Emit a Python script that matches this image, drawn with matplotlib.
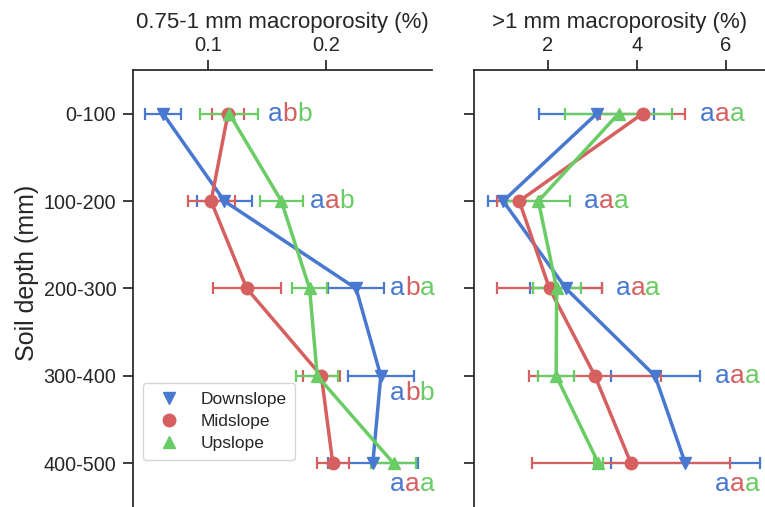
### Macroporosity by soil depth along the hillslope
### two panels: 0.75-1 mm pores and >1 mm pores, mean +/- SE

import numpy as np
from matplotlib import pyplot as plt
from matplotlib.lines import Line2D

params = {'font.family': 'sans-serif',
          'font.sans-serif': ['Liberation Sans', 'DejaVu Sans'],
          'text.color': '#262626',
          'axes.labelcolor': '#262626',
          'xtick.color': '#262626',
          'ytick.color': '#262626',
          'axes.edgecolor': '#262626',
          'axes.linewidth': 1.25,
          'xtick.major.width': 1.25,
          'ytick.major.width': 1.25,
          'xtick.major.size': 7,
          'ytick.major.size': 7,
          'ytick.major.pad': 5,
          'xtick.labelsize': 14.5,
          'ytick.labelsize': 14.2,
          'axes.labelsize': 16}
plt.rcParams.update(params)


# depth classes
depths = ['0-100', '100-200', '200-300', '300-400', '400-500']

# 0.75-1 mm macroporosity (%)
down_small = [0.0615, 0.1136, 0.2255, 0.2465, 0.2397]
down_small_err = [0.015, 0.0234, 0.024, 0.028, 0.038]
mid_small = [0.1167, 0.1023, 0.1326, 0.196, 0.2057]
mid_small_err = [0.014, 0.020, 0.029, 0.016, 0.0137]
up_small = [0.1178, 0.162, 0.186, 0.1925, 0.2573]
up_small_err = [0.0245, 0.0185, 0.015, 0.018, 0.0195]

# >1 mm macroporosity (%)
down_large = [3.10, 1.00, 2.41, 4.41, 5.09]
down_large_err = [1.29, 0.34, 0.81, 1.00, 1.67]
mid_large = [4.13, 1.36, 2.04, 3.06, 3.87]
mid_large_err = [0.95, 0.50, 1.17, 1.48, 2.23]
up_large = [3.59, 1.79, 2.20, 2.19, 3.14]
up_large_err = [1.21, 0.70, 0.54, 0.40, 0.10]

# significance letters (Downslope, Midslope, Upslope)
small_letters = ['abb', 'aab', 'aba', 'abb', 'aaa']
large_letters = ['aaa', 'aaa', 'aaa', 'aaa', 'aaa']

# where the letters go
small_letter_x = [0.1507, 0.1864, 0.2544, 0.2544, 0.2544]
small_letter_dy = [0, 0, 0, 0.2, 0.24]
large_letter_x = [5.42, 2.82, 3.53, 5.76, 5.76]
large_letter_dy = [0, 0, 0, 0, 0.24]

names = ['Downslope', 'Midslope', 'Upslope']
colors = ['#4878D0', '#D65F5F', '#6ACC64']
markers = ['v', 'o', '^']


###############################################################################
### helpers
###############################################################################

def draw_panel(ax, series, errs):
    y = np.arange(len(depths))
    for vals, err, col, mk in zip(series, errs, colors, markers):
        ax.errorbar(vals, y, xerr=err, color=col, marker=mk, markersize=9,
                    lw=2.5, elinewidth=1.6, capsize=4, capthick=1.6)
    ax.set_ylim(len(depths) - 0.5, -0.5)
    ax.set_yticks(y)
    ax.xaxis.tick_top()
    ax.xaxis.set_label_position('top')
    ax.spines['right'].set_visible(False)
    ax.spines['bottom'].set_visible(False)


def draw_letters(ax, letters, xs, dys):
    for i, (word, x, dy) in enumerate(zip(letters, xs, dys)):
        prev = ax.text(x, i + dy, word[0], color=colors[0], fontsize=19,
                       ha='left', va='center')
        for ch, col in zip(word[1:], colors[1:]):
            prev = ax.annotate(ch, xy=(1, 0), xycoords=prev, color=col,
                               fontsize=19, ha='left', va='bottom')


###############################################################################
### plotting
###############################################################################

fig = plt.figure(figsize=(7.65, 5.07), dpi=100)
ax1 = fig.add_axes([0.1739, 0.0, 0.3908, 0.862])
ax2 = fig.add_axes([0.6196, 0.0, 0.3804, 0.862])

draw_panel(ax1, [down_small, mid_small, up_small],
           [down_small_err, mid_small_err, up_small_err])
draw_panel(ax2, [down_large, mid_large, up_large],
           [down_large_err, mid_large_err, up_large_err])

ax1.set_xlim(0.036, 0.29)
ax1.set_xticks([0.1, 0.2])
ax1.set_xticklabels(['0.1', '0.2'])
ax1.set_yticklabels(depths)
ax1.set_xlabel('0.75-1 mm macroporosity (%)', labelpad=6)
ax1.set_ylabel('Soil depth (mm)', fontsize=18)
ax1.yaxis.set_label_coords(-0.315, 0.535)

ax2.set_xlim(0.344, 6.88)
ax2.set_xticks([2, 4, 6])
ax2.set_yticklabels([])
ax2.set_xlabel('>1 mm macroporosity (%)', labelpad=6)

draw_letters(ax1, small_letters, small_letter_x, small_letter_dy)
draw_letters(ax2, large_letters, large_letter_x, large_letter_dy)

handles = [Line2D([], [], color=c, marker=m, linestyle='none', markersize=9)
           for c, m in zip(colors, markers)]
ax1.legend(handles, names, loc='lower left', bbox_to_anchor=(0.033, 0.1075),
           borderaxespad=0, fontsize=12.5, handletextpad=0.8, borderpad=0.5,
           labelspacing=0.4)

plt.savefig('out.png', dpi=100)
